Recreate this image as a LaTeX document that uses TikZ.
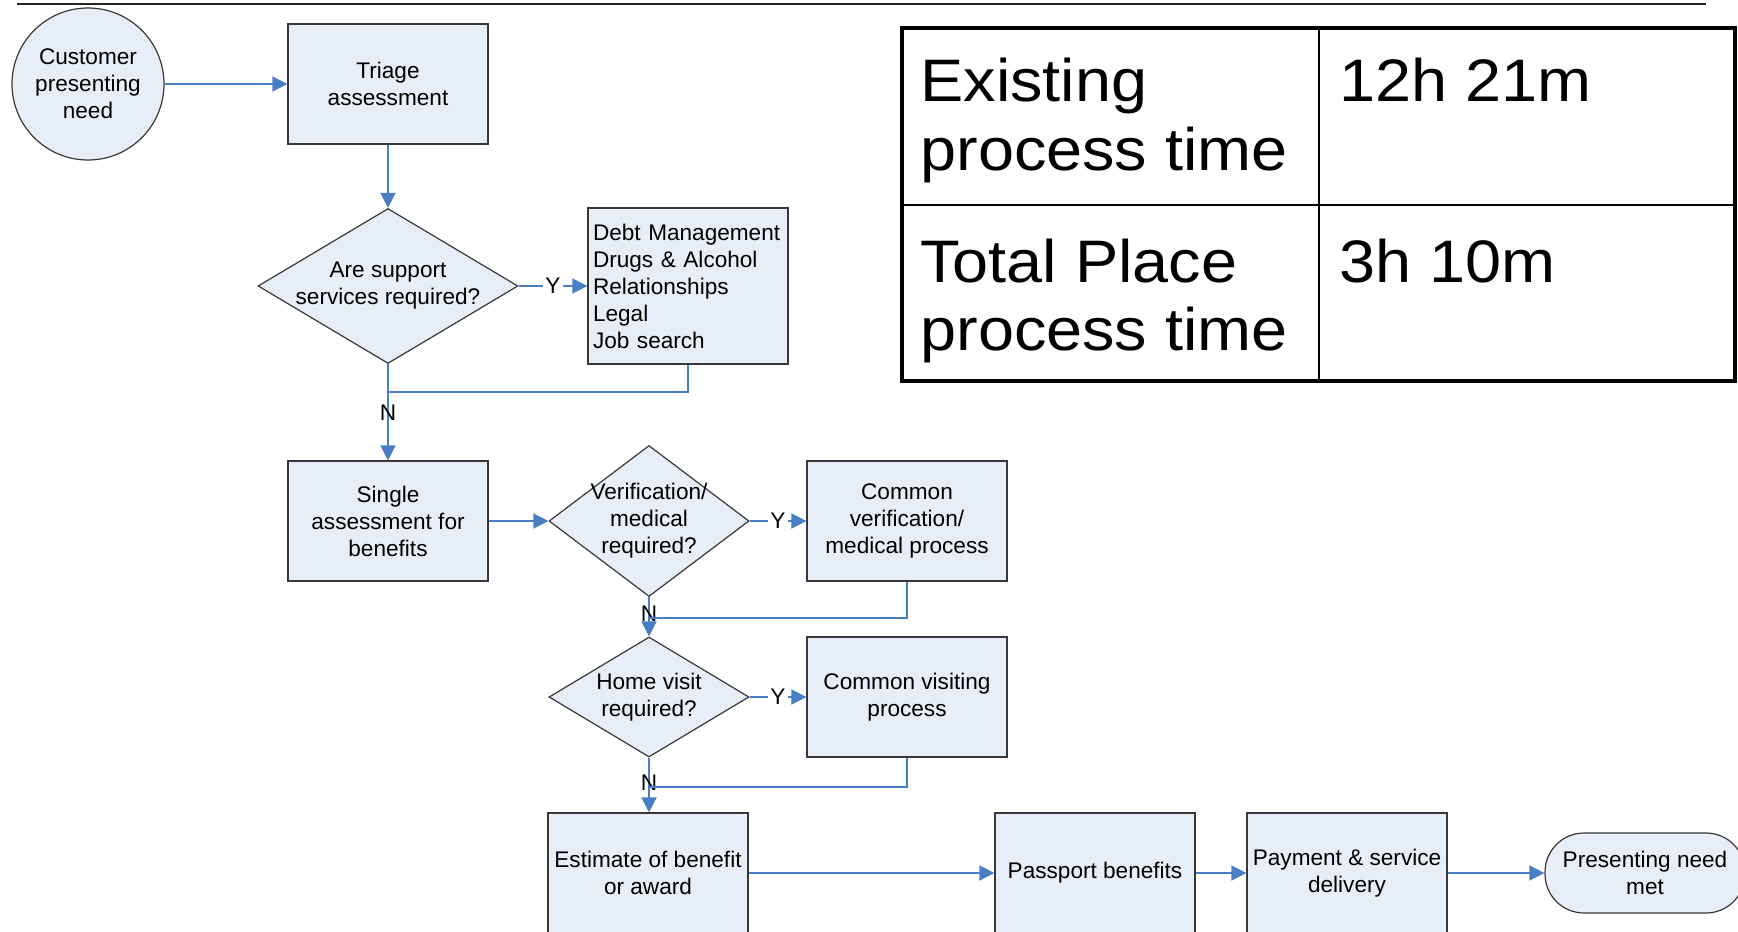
\documentclass[tikz,border=0pt]{standalone}
\usepackage{fontspec}
\setmainfont{Liberation Sans}
\newfontfamily\tablefont[FakeStretch=1.08]{Liberation Sans}
\usetikzlibrary{arrows.meta,shapes.geometric}
\definecolor{boxfill}{HTML}{E8EEF8}
\definecolor{linkblue}{HTML}{4A7EC3}
\definecolor{edgegray}{HTML}{383838}
\begin{document}
\begin{tikzpicture}[x=0.5pt,y=-0.5pt,
  every node/.style={font=\fontsize{11.3}{13.5}\selectfont},
  procbox/.style={draw=edgegray, line width=0.6pt, fill=boxfill, minimum width=100pt, minimum height=60pt, align=center, inner sep=2pt},
  startcirc/.style={circle, draw=edgegray, line width=0.6pt, fill=boxfill, minimum size=76pt, align=center, inner sep=0pt},
  decision/.style={diamond, draw=edgegray, line width=0.6pt, fill=boxfill, inner sep=0pt},
  dtext/.style={align=center, inner sep=0pt},
  conn/.style={draw=linkblue, line width=0.75pt},
  flow/.style={conn, -{Triangle[length=7.5pt,width=7.5pt]}},
  yn/.style={fill=white, inner sep=1pt},
  nlab/.style={inner sep=0pt},
  bigtext/.style={font=\tablefont\fontsize{30}{34}\selectfont, anchor=base west, inner sep=0pt},
]
\useasboundingbox (0,0) rectangle (1738,931);
\clip (0,0) rectangle (1738,931);

% top rule
\coordinate (ruleL) at (17,4);
\coordinate (ruleR) at (1706,4);
\draw[line width=0.7pt, black!85] (ruleL) -- (ruleR);

% flowchart nodes
\node[startcirc] (cust) at (88,84) {Customer\\presenting\\need};
\node[procbox] (triage) at (388,84) {Triage\\assessment};
\node[decision, minimum width=130pt, minimum height=77.5pt] (d1) at (388,286) {};
\node[dtext] (d1t) at (d1) {Are support\\services required?};
\node[procbox, minimum height=78pt, text width=95pt, align=left, inner xsep=2.5pt] (debt) at (688,286)
  {Debt Management\\Drugs \& Alcohol\\Relationships\\Legal\\Job search};
\node[procbox] (single) at (388,521) {Single\\assessment for\\benefits};
\node[decision, minimum width=100pt, minimum height=75.5pt] (d2) at (649,521) {};
\node[dtext] (d2t) at (d2) {Verification/\\medical\\required?};
\node[procbox] (cv) at (907,521) {Common\\verification/\\medical process};
\node[decision, minimum width=100pt, minimum height=60pt] (d3) at (649,697) {};
\node[dtext] (d3t) at (d3) {Home visit\\required?};
\node[procbox] (cvis) at (907,697) {Common visiting\\process};
\node[procbox] (est) at (648,873) {Estimate of benefit\\or award};
\node[procbox] (pass) at (1095,873) {Passport benefits};
\node[procbox] (pay) at (1347,873) {Payment \& service\\delivery};
\node[procbox, minimum height=40pt, rounded corners=19.5pt] (need) at (1645,873) {Presenting need\\met};

% connectors
\draw[flow] (cust) -- (triage);
\draw[flow] (triage) -- (d1);
\draw[flow] (d1) -- node[yn] (y1) {Y} (debt);
\draw[flow] (d1) -- node[nlab] (n1) {N} (single);
\coordinate (j1) at (388,392);
\draw[conn] (debt.south) |- (j1);
\draw[flow] (single) -- (d2);
\draw[flow] (d2) -- node[yn] (y2) {Y} (cv);
\draw[flow] (d2) -- node[nlab, pos=0.42] (n2) {N} (d3);
\coordinate (j2) at (649,618);
\draw[conn] (cv.south) |- (j2);
\draw[flow] (d3) -- node[yn] (y3) {Y} (cvis);
\draw[flow] (d3) -- node[nlab, pos=0.46] (n3) {N} (d3 |- est.north);
\coordinate (j3) at (649,787);
\draw[conn] (cvis.south) |- (j3);
\draw[flow] (est) -- (pass);
\draw[flow] (pass) -- (pay);
\draw[flow] (pay) -- (need);

% table
\draw[line width=2.2pt] (902,28) rectangle (1735,381);
\draw[line width=1.3pt] (1319,28) -- (1319,381);
\draw[line width=1.3pt] (902,205) -- (1735,205);
\node[bigtext] (t1a) at (920,102) {Existing};
\node[bigtext] (t1b) at (920,170) {process time};
\node[bigtext] (t2a) at (920,282) {Total Place};
\node[bigtext] (t2b) at (920,350) {process time};
\node[bigtext] (v1) at (1339,102) {12h 21m};
\node[bigtext] (v2) at (1339,282) {3h 10m};
\end{tikzpicture}
\end{document}
